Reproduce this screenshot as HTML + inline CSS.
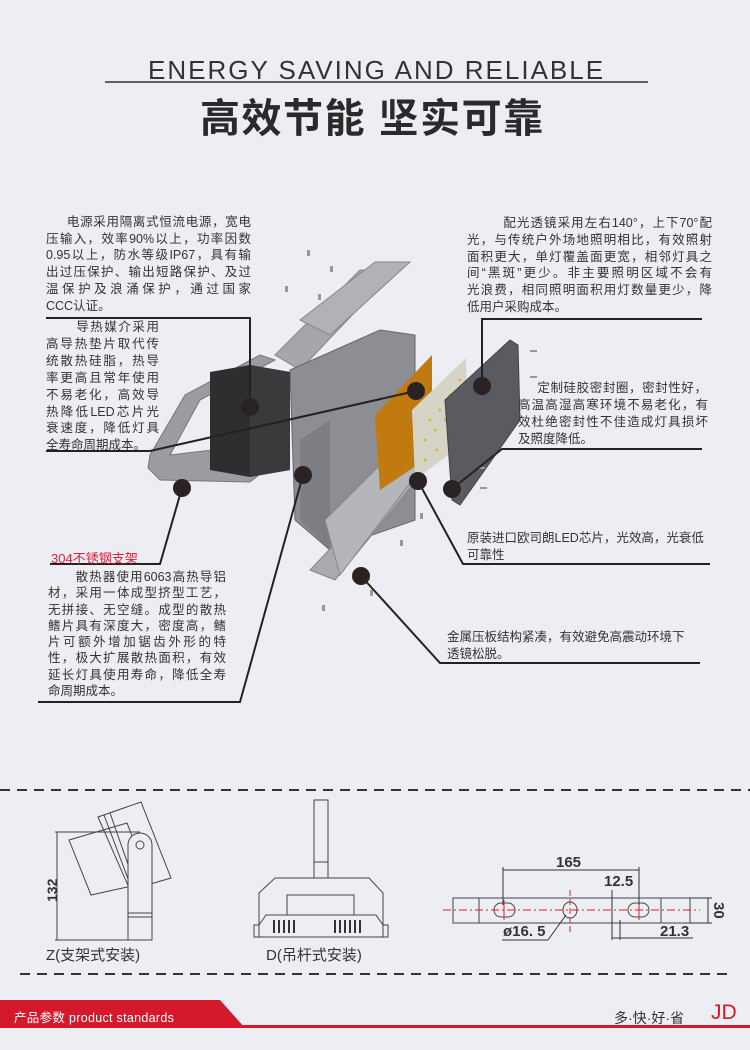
<!DOCTYPE html>
<html><head><meta charset="utf-8">
<style>
*{margin:0;padding:0;box-sizing:border-box}
body{width:750px;height:1050px;background:#eceef4;position:relative;overflow:hidden;font-family:"Liberation Sans","Noto Sans CJK SC",sans-serif;color:#333}
.t{position:absolute;font-size:12.5px;white-space:nowrap}
.j{position:absolute;font-size:12.5px;white-space:normal;text-align:justify;text-align-last:justify}
.j div{white-space:nowrap}
</style></head><body>
<svg width="750" height="1050" style="position:absolute;left:0;top:0">
<rect width="750" height="1050" fill="#eceef4"/>
<line x1="105" y1="82" x2="648" y2="82" stroke="#333" stroke-width="1.5"/>
<polygon points="150,455 185,395 260,355 275,360 200,400 170,455 255,445 265,470 250,482 160,480 148,468" fill="#9a9ca2" stroke="#777"/>
<polygon points="275,355 360,270 395,270 300,370" fill="#a5a7ac" stroke="#888"/>
<polygon points="300,320 375,262 410,262 330,335" fill="#b0b2b6" stroke="#888"/>
<polygon points="290,370 380,330 415,335 415,520 330,550 295,520" fill="#8c8e93" stroke="#666"/>
<polygon points="300,440 330,420 330,550 300,520" fill="#7c7e83"/>
<polygon points="210,372 250,365 290,372 290,470 250,477 210,470" fill="#2e2e30"/>
<polygon points="250,365 290,372 290,470 250,477" fill="#3a3a3d"/>
<polygon points="310,570 405,470 425,470 335,580" fill="#a8aab0" stroke="#888"/>
<polygon points="325,520 395,450 420,470 340,575" fill="#b4b6bb" stroke="#888"/>
<polygon points="375,415 432,355 432,455 380,490" fill="#c07a10"/>
<polygon points="412,410 466,358 468,440 415,480" fill="#d6d4c6"/>
<g fill="#e0b830">
<circle cx="425" cy="440" r="1.5"/><circle cx="435" cy="430" r="1.5"/><circle cx="445" cy="420" r="1.5"/><circle cx="455" cy="405" r="1.5"/>
<circle cx="430" cy="420" r="1.5"/><circle cx="440" cy="410" r="1.5"/><circle cx="450" cy="395" r="1.5"/><circle cx="460" cy="380" r="1.5"/>
<circle cx="425" cy="460" r="1.5"/><circle cx="437" cy="450" r="1.5"/><circle cx="448" cy="440" r="1.5"/><circle cx="458" cy="425" r="1.5"/>
</g>
<polygon points="445,400 510,340 518,345 520,420 460,505 452,500" fill="#5a5b60" stroke="#444"/>
<g fill="#999"><rect x="307" y="250" width="3" height="6"/><rect x="330" y="266" width="3" height="6"/><rect x="285" y="286" width="3" height="6"/><rect x="318" y="294" width="3" height="6"/><rect x="420" y="513" width="3" height="6"/><rect x="400" y="540" width="3" height="6"/><rect x="322" y="605" width="3" height="6"/><rect x="370" y="590" width="3" height="6"/><rect x="530" y="350" width="7" height="2"/><rect x="530" y="376" width="7" height="2"/><rect x="480" y="487" width="7" height="2"/><rect x="478" y="467" width="7" height="2"/></g>
<g fill="none" stroke="#222" stroke-width="2">
<polyline points="46,318 250,318 250,407"/>
<polyline points="46,451 150,451 416,391"/>
<polyline points="50,564 160,564 182,488"/>
<polyline points="38,702 240,702 303,475"/>
<polyline points="361,576 440,663 700,663"/>
<polyline points="418,481 463,564 710,564"/>
<polyline points="452,489 502,449 702,449"/>
<polyline points="482,386 482,319 702,319"/>
</g>
<g fill="#2a2222">
<circle cx="250" cy="407" r="9"/><circle cx="416" cy="391" r="9"/><circle cx="182" cy="488" r="9"/><circle cx="303" cy="475" r="9"/><circle cx="361" cy="576" r="9"/><circle cx="418" cy="481" r="9"/><circle cx="452" cy="489" r="9"/><circle cx="482" cy="386" r="9"/>
</g>
<line x1="0" y1="790" x2="750" y2="790" stroke="#333" stroke-width="2" stroke-dasharray="10,7"/>
<line x1="20" y1="974" x2="732" y2="974" stroke="#333" stroke-width="2" stroke-dasharray="10,7"/>
<g fill="none" stroke="#444" stroke-width="1">
<polygon points="69,840 127,823 150,882 91,895"/>
<polygon points="98,817 141,802 171,878 130,890"/>
<line x1="104" y1="815" x2="133" y2="892"/><line x1="110" y1="813" x2="137" y2="890"/>
<path d="M128,940 L128,845 A12,12 0 0 1 152,845 L152,940 Z" fill="#eceef4"/>
<circle cx="140" cy="845" r="4"/>
<line x1="128" y1="913" x2="152" y2="913"/><line x1="128" y1="917" x2="152" y2="917"/>
<line x1="55" y1="832" x2="140" y2="832"/><line x1="55" y1="940" x2="130" y2="940"/>
<line x1="57" y1="832" x2="57" y2="940"/>
</g>
<text x="0" y="0" font-size="14" font-weight="bold" fill="#333" transform="translate(57,902) rotate(-90)">132</text>
<g fill="none" stroke="#444" stroke-width="1">
<rect x="314" y="800" width="14" height="62"/>
<rect x="314" y="862" width="14" height="16"/>
<path d="M259,937 L259,893 L275,878 L369,878 L383,893 L383,937 Z"/>
<rect x="287" y="895" width="67" height="20"/>
<path d="M259,925 L266,915 L376,915 L383,925"/>
<rect x="254" y="925" width="5" height="12"/><rect x="383" y="925" width="5" height="12"/>
</g>
<g stroke="#333" stroke-width="2">
<line x1="274" y1="920" x2="274" y2="933"/><line x1="279" y1="920" x2="279" y2="933"/><line x1="284" y1="920" x2="284" y2="933"/><line x1="289" y1="920" x2="289" y2="933"/><line x1="294" y1="920" x2="294" y2="933"/>
<line x1="335" y1="920" x2="335" y2="933"/><line x1="340" y1="920" x2="340" y2="933"/><line x1="345" y1="920" x2="345" y2="933"/><line x1="350" y1="920" x2="350" y2="933"/><line x1="355" y1="920" x2="355" y2="933"/><line x1="360" y1="920" x2="360" y2="933"/>
</g>
<rect x="453" y="898" width="237" height="25" fill="none" stroke="#444"/>
<line x1="479" y1="898" x2="479" y2="923" stroke="#444"/><line x1="661" y1="898" x2="661" y2="923" stroke="#444"/>
<rect x="494" y="903" width="21" height="14" rx="7" fill="none" stroke="#444"/>
<rect x="628" y="903" width="21" height="14" rx="7" fill="none" stroke="#444"/>
<ellipse cx="570" cy="910" rx="7" ry="8" fill="none" stroke="#444"/>
<line x1="443" y1="910" x2="700" y2="910" stroke="#d22" stroke-dasharray="8,3,2,3"/>
<line x1="570" y1="890" x2="570" y2="932" stroke="#d22" stroke-dasharray="6,3"/>
<line x1="504" y1="900" x2="504" y2="920" stroke="#d22"/>
<line x1="639" y1="900" x2="639" y2="920" stroke="#d22"/>
<g stroke="#333" fill="none">
<line x1="503" y1="905" x2="503" y2="867"/><line x1="639" y1="905" x2="639" y2="867"/>
<line x1="503" y1="870" x2="639" y2="870"/>
<line x1="612" y1="890" x2="612" y2="940"/><line x1="620" y1="920" x2="620" y2="940"/>
<line x1="612" y1="938" x2="693" y2="938"/>
<line x1="690" y1="898" x2="712" y2="898"/><line x1="690" y1="923" x2="712" y2="923"/><line x1="708" y1="898" x2="708" y2="923"/>
<line x1="502" y1="940" x2="548" y2="940"/><line x1="548" y1="940" x2="566" y2="915"/>
</g>
<polygon points="0,1000 220,1000 245,1028 0,1028" fill="#d5192d"/>
<rect x="240" y="1025" width="510" height="3" fill="#d5192d"/>
</svg>
<div class="t" style="left:148px;top:55px;font-size:26px;color:#333;letter-spacing:2px">ENERGY SAVING AND RELIABLE</div>
<div class="t" style="left:200px;top:86px;font-size:40px;font-weight:bold;color:#2a2a2a;letter-spacing:1.5px">高效节能 坚实可靠</div>
<div class="j" style="left:46px;top:214px;width:205px;line-height:16.7px">
<div>&nbsp;&nbsp;&nbsp;&nbsp;&nbsp;电源采用隔离式恒流电源，宽电</div><div>压输入，效率90%以上，功率因数</div><div>0.95以上，防水等级IP67，具有输</div><div>出过压保护、输出短路保护、及过</div><div>温保护及浪涌保护，通过国家</div><div style="text-align-last:left">CCC认证。</div></div>
<div class="j" style="left:46px;top:319px;width:113px;line-height:16.9px">
<div>&nbsp;&nbsp;&nbsp;&nbsp;&nbsp;&nbsp;导热媒介采用</div><div>高导热垫片取代传</div><div>统散热硅脂，热导</div><div>率更高且常年使用</div><div>不易老化，高效导</div><div>热降低LED芯片光</div><div>衰速度，降低灯具</div><div style="text-align-last:left">全寿命周期成本。</div></div>
<div class="t" style="left:51px;top:548px;font-size:13px;color:#e0203a">304不锈钢支架</div>
<div class="j" style="left:48px;top:569px;width:178px;line-height:16.3px">
<div>&nbsp;&nbsp;&nbsp;&nbsp;&nbsp;&nbsp;散热器使用6063高热导铝</div><div>材，采用一体成型挤型工艺，</div><div>无拼接、无空缝。成型的散热</div><div>鳍片具有深度大，密度高，鳍</div><div>片可额外增加锯齿外形的特</div><div>性，极大扩展散热面积，有效</div><div>延长灯具使用寿命，降低全寿</div><div style="text-align-last:left">命周期成本。</div></div>
<div class="j" style="left:467px;top:215px;width:245px;line-height:16.8px">
<div>&nbsp;&nbsp;&nbsp;&nbsp;&nbsp;&nbsp;&nbsp;&nbsp;配光透镜采用左右140°，上下70°配</div><div>光，与传统户外场地照明相比，有效照射</div><div>面积更大，单灯覆盖面更宽，相邻灯具之</div><div>间“黑斑”更少。非主要照明区域不会有</div><div>光浪费，相同照明面积用灯数量更少，降</div><div style="text-align-last:left">低用户采购成本。</div></div>
<div class="j" style="left:517px;top:380px;width:190px;line-height:17.1px">
<div>&nbsp;&nbsp;&nbsp;&nbsp;&nbsp;定制硅胶密封圈，密封性好，</div></div>
<div class="j" style="left:518px;top:397px;width:190px;line-height:17.1px">
<div>高温高湿高寒环境不易老化，有</div><div>效杜绝密封性不佳造成灯具损坏</div><div style="text-align-last:left">及照度降低。</div></div>
<div class="t" style="left:467px;top:530px;line-height:17px">原装进口欧司朗LED芯片，光效高，光衰低<br>可靠性</div>
<div class="t" style="left:447px;top:629px;line-height:17px">金属压板结构紧凑，有效避免高震动环境下<br>透镜松脱。</div>
<div class="t" style="left:46px;top:944px;font-size:15px;color:#333">Z(支架式安装)</div>
<div class="t" style="left:266px;top:944px;font-size:15px;color:#333">D(吊杆式安装)</div>
<div class="t" style="left:556px;top:854px;font-size:15px;font-weight:bold">165</div>
<div class="t" style="left:604px;top:873px;font-size:15px;font-weight:bold">12.5</div>
<div class="t" style="left:503px;top:923px;font-size:15px;font-weight:bold">ø16. 5</div>
<div class="t" style="left:660px;top:923px;font-size:15px;font-weight:bold">21.3</div>
<div class="t" style="left:727px;top:902px;font-size:15px;font-weight:bold;transform:rotate(90deg);transform-origin:0 0">30</div>
<div class="t" style="left:14px;top:1007px;font-size:12.5px;color:#fff;letter-spacing:0.3px">产品参数 product standards</div>
<div class="t" style="left:614px;top:1008px;font-size:14px;color:#333">多·快·好·省</div>
<div class="t" style="left:711px;top:1001px;font-size:21px;color:#d5192d">JD</div>
</body></html>
